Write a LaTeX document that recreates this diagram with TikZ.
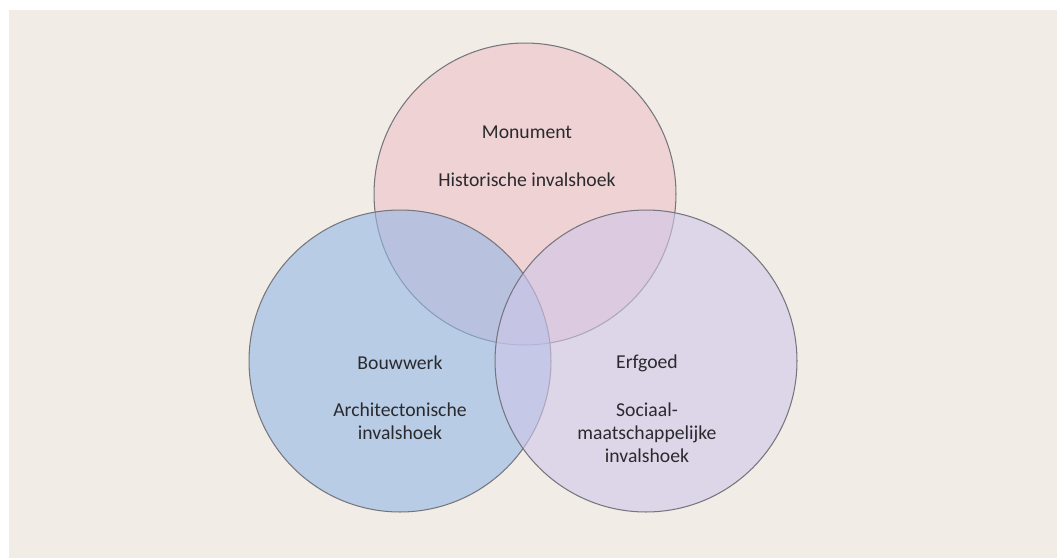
\documentclass[tikz,border=0pt]{standalone}
\usepackage{fontspec}
\setmainfont{Carlito}
\definecolor{achtergrond}{HTML}{F1ECE5}
\definecolor{rand}{HTML}{76767E}
\definecolor{tekst}{HTML}{2A2A2E}
\definecolor{roze}{HTML}{EEC2C7}
\definecolor{blauw}{HTML}{94B8E6}
\definecolor{lila}{HTML}{D0C6EA}
\begin{document}
\begin{tikzpicture}[x=0.02cm,y=-0.02cm,thick,
    cirkel/.style={circle,draw=rand,line width=0.6pt,fill opacity=0.6,minimum size=6.04cm,inner sep=0pt},
    tekstnode/.style={align=center,text=tekst,font=\fontsize{11.2}{13.2}\selectfont}]
    \useasboundingbox (0,0) rectangle (1057,558);
    \fill[achtergrond] (9,10) rectangle (1057,558);
    % de drie cirkels
    \node[cirkel,fill=roze] (monument) at (525,194) {};
    \node[cirkel,fill=blauw] (bouwwerk) at (400,361) {};
    \node[cirkel,fill=lila] (erfgoed) at (646,361) {};
    % teksten
    \node[tekstnode] (mon1) at (527,132) {Monument};
    \node[tekstnode] (mon2) at (527,180) {Historische invalshoek};
    \node[tekstnode] (bouw1) at (400,363) {Bouwwerk};
    \node[tekstnode] (bouw2) at (400,421) {Architectonische\\invalshoek};
    \node[tekstnode] (erf1) at (647,363) {Erfgoed};
    \node[tekstnode] (erf2) at (647,433) {Sociaal-\\maatschappelijke\\invalshoek};
\end{tikzpicture}
\end{document}
